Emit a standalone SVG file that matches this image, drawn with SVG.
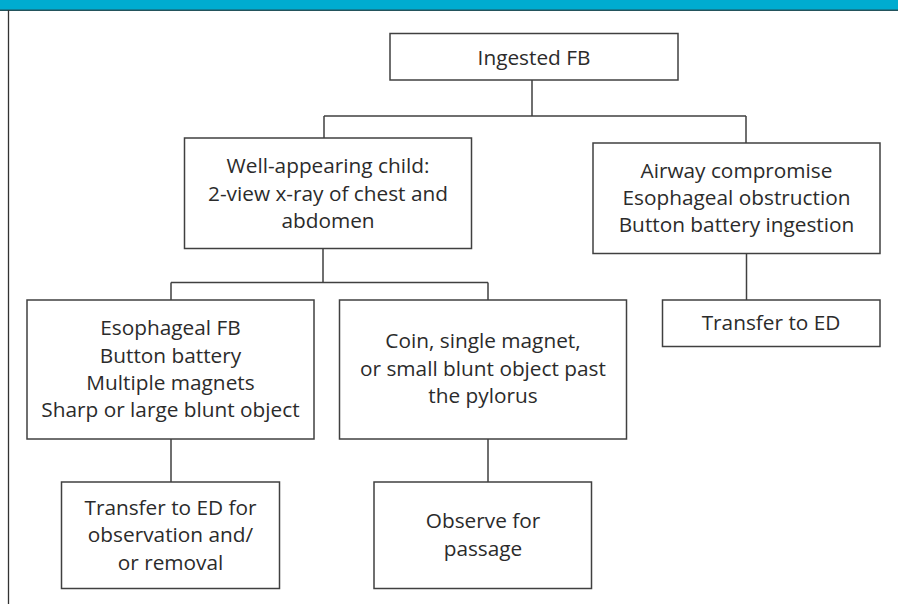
<svg xmlns="http://www.w3.org/2000/svg" width="898" height="604" viewBox="0 0 898 604">
<style>
.box{fill:#fff;stroke:#404040;stroke-width:1.5}
.ln{fill:none;stroke:#404040;stroke-width:1.5}
text{font-family:"Open Sans","Liberation Sans",sans-serif;font-size:20.8px;fill:#2b2b2b;text-anchor:middle}
</style>
<rect x="0" y="0" width="898" height="604" fill="#fff"/>
<g id="banner">
<rect x="0" y="0" width="898" height="10" fill="#00acd0"/>
<rect x="0" y="9.5" width="898" height="1.5" fill="#23535c"/>
<line x1="8.5" y1="10" x2="8.5" y2="604" stroke="#333" stroke-width="1.3"/>
</g>
<g id="connectors">
<path class="ln" d="M532 80V116M324 116H746M324 116V138M746 116V143"/>
<path class="ln" d="M323 248V282.5M171 282.5H488M171 282.5V300M488 282.5V300"/>
<path class="ln" d="M746.5 253V300"/>
<path class="ln" d="M171 439V482M488 439V482"/>
</g>
<g id="n_ingested">
<rect class="box" x="390" y="33.5" width="288" height="46.5"/>
<text x="534" y="65">Ingested FB</text>
</g>
<g id="n_well">
<rect class="box" x="184.5" y="138" width="287" height="110.5"/>
<text x="328" y="173">Well-appearing child:</text>
<text x="328" y="201">2-view x-ray of chest and</text>
<text x="328" y="228">abdomen</text>
</g>
<g id="n_airway">
<rect class="box" x="593" y="143" width="287" height="110.5"/>
<text x="736.5" y="178">Airway compromise</text>
<text x="736.5" y="205">Esophageal obstruction</text>
<text x="736.5" y="232">Button battery ingestion</text>
</g>
<g id="n_transfer">
<rect class="box" x="662.5" y="300" width="217.5" height="46.5"/>
<text x="771" y="330">Transfer to ED</text>
</g>
<g id="n_eso">
<rect class="box" x="27" y="300" width="287" height="139"/>
<text x="170.5" y="335">Esophageal FB</text>
<text x="170.5" y="362.5">Button battery</text>
<text x="170.5" y="390">Multiple magnets</text>
<text x="170.5" y="417">Sharp or large blunt object</text>
</g>
<g id="n_coin">
<rect class="box" x="339.5" y="300" width="287" height="139"/>
<text x="483" y="348">Coin, single magnet,</text>
<text x="483" y="376">or small blunt object past</text>
<text x="483" y="403">the pylorus</text>
</g>
<g id="n_transfer_obs">
<rect class="box" x="61.5" y="482" width="218" height="106.5"/>
<text x="170.5" y="515">Transfer to ED for</text>
<text x="170.5" y="542">observation and/</text>
<text x="170.5" y="570">or removal</text>
</g>
<g id="n_observe">
<rect class="box" x="374" y="482" width="217.5" height="106.5"/>
<text x="483" y="528">Observe for</text>
<text x="483" y="556">passage</text>
</g>
</svg>
